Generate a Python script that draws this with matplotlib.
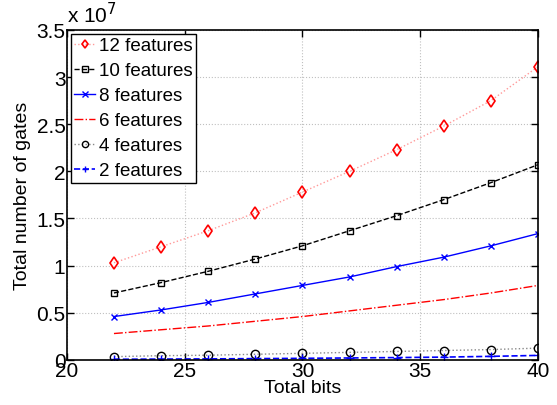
import matplotlib
matplotlib.use("Agg")
import matplotlib.pyplot as plt
from matplotlib.ticker import FuncFormatter, MultipleLocator

plt.rcParams['font.family'] = ['Liberation Sans', 'DejaVu Sans']

bits = [22, 24, 26, 28, 30, 32, 34, 36, 38, 40]
SCALE = 1e7
f12 = [1.03, 1.20, 1.37, 1.56, 1.78, 2.00, 2.23, 2.48, 2.75, 3.11]
f10 = [0.71, 0.82, 0.94, 1.07, 1.21, 1.37, 1.53, 1.70, 1.88, 2.07]
f8 = [0.46, 0.53, 0.61, 0.70, 0.79, 0.88, 0.99, 1.09, 1.21, 1.34]
f6 = [0.28, 0.32, 0.36, 0.41, 0.46, 0.52, 0.58, 0.64, 0.71, 0.79]
f4 = [0.035, 0.045, 0.05, 0.06, 0.07, 0.08, 0.09, 0.10, 0.11, 0.125]
f2 = [0.007, 0.009, 0.011, 0.014, 0.017, 0.021, 0.025, 0.030, 0.038, 0.048]
labels = ['12 features', '10 features', '8 features', '6 features', '4 features', '2 features']

fig = plt.figure(figsize=(5.57, 4.06), dpi=100)
ax = fig.add_axes([0.120, 0.111, 0.846, 0.813])

def sc(v):
    return [x * SCALE for x in v]

ax.plot(bits, sc(f12), linestyle=':', color='#ff9999', lw=1.0,
        marker='d', mfc='none', mec='red', mew=1.2, ms=6, label=labels[0])
ax.plot(bits, sc(f10), linestyle='--', color='black', lw=1.0,
        marker='s', mfc='none', mec='black', mew=1.0, ms=5, label=labels[1])
ax.plot(bits, sc(f8), linestyle='-', color='blue', lw=1.0,
        marker='x', mec='blue', mew=1.0, ms=5, label=labels[2])
ax.plot(bits, sc(f6), linestyle='-.', color='red', lw=1.0, label=labels[3])
ax.plot(bits, sc(f4), linestyle=':', color='#888888', lw=1.0,
        marker='o', mfc='none', mec='black', mew=1.0, ms=6, label=labels[4])
ax.plot(bits, sc(f2), linestyle='--', color='blue', lw=1.2,
        marker='+', mec='blue', mew=1.0, ms=6, label=labels[5])

ax.set_xlim(20, 40)
ax.set_ylim(0, 3.5e7)
ax.xaxis.set_major_locator(MultipleLocator(5))
ax.yaxis.set_major_locator(MultipleLocator(0.5e7))
ax.yaxis.set_major_formatter(FuncFormatter(lambda v, p: '%g' % (v / SCALE)))
ax.tick_params(direction='in', top=True, right=True, labelsize=15, length=5, width=1, pad=1)
ax.grid(True, linestyle=':', color='#c0c0c0', lw=0.8)
for s in ax.spines.values():
    s.set_linewidth(1.2)

ax.set_xlabel('Total bits', fontsize=14, labelpad=-1)
ax.set_ylabel('Total number of gates', fontsize=14, labelpad=4)
ax.text(0.0, 1.01, r'x 10$^{7}$', transform=ax.transAxes, fontsize=15,
        ha='left', va='bottom')

leg = ax.legend(loc='upper left', fontsize=13.5, handlelength=1.1, handletextpad=0.2,
                labelspacing=0.42, borderpad=0.2, borderaxespad=0.2, fancybox=False,
                framealpha=1, edgecolor='black', markerscale=0.75)
leg.get_frame().set_linewidth(1.0)

fig.savefig('out.png', dpi=100)
